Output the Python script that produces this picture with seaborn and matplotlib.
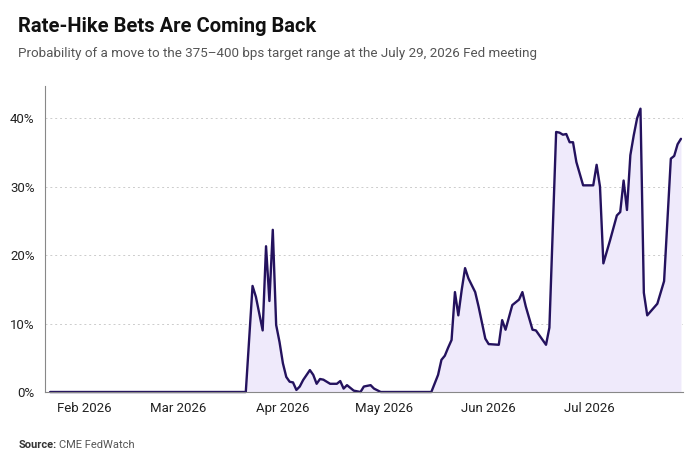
import matplotlib
matplotlib.use("Agg")
import matplotlib.pyplot as plt
import matplotlib.dates as mdates
from matplotlib import ticker as mtick
import pandas as pd
import seaborn as sns

# CME FedWatch probability (%) of a move to 375-400 bps at the Jul 29, 2026 meeting
dates = [
    "2026-01-22", "2026-03-21", "2026-03-23", "2026-03-24", "2026-03-26", "2026-03-27",
    "2026-03-28", "2026-03-29", "2026-03-30", "2026-03-31", "2026-04-01", "2026-04-02",
    "2026-04-03", "2026-04-04", "2026-04-05", "2026-04-06", "2026-04-07", "2026-04-09",
    "2026-04-10", "2026-04-11", "2026-04-12", "2026-04-13", "2026-04-15", "2026-04-17",
    "2026-04-18", "2026-04-19", "2026-04-20", "2026-04-22", "2026-04-24", "2026-04-25",
    "2026-04-27", "2026-04-28", "2026-04-30", "2026-05-15", "2026-05-17", "2026-05-18",
    "2026-05-19", "2026-05-20", "2026-05-21", "2026-05-22", "2026-05-23", "2026-05-24",
    "2026-05-25", "2026-05-26", "2026-05-28", "2026-05-29", "2026-05-31", "2026-06-01",
    "2026-06-04", "2026-06-05", "2026-06-06", "2026-06-08", "2026-06-10", "2026-06-11",
    "2026-06-12", "2026-06-14", "2026-06-15", "2026-06-16", "2026-06-18", "2026-06-19",
    "2026-06-21", "2026-06-22", "2026-06-23", "2026-06-24", "2026-06-25", "2026-06-26",
    "2026-06-27", "2026-06-29", "2026-07-02", "2026-07-03", "2026-07-04", "2026-07-05",
    "2026-07-07", "2026-07-09", "2026-07-10", "2026-07-11", "2026-07-12", "2026-07-13",
    "2026-07-14", "2026-07-15", "2026-07-16", "2026-07-17", "2026-07-18", "2026-07-21",
    "2026-07-23", "2026-07-25", "2026-07-26", "2026-07-27", "2026-07-28",
]
probs = [
    0.0, 0.0, 15.5, 13.9, 9.0, 21.3,
    13.3, 23.7, 9.8, 7.3, 4.2, 2.2,
    1.5, 1.4, 0.3, 0.8, 1.75, 3.2,
    2.5, 1.2, 1.9, 1.8, 1.2, 1.2,
    1.6, 0.5, 1.0, 0.2, 0.0, 0.8,
    1.0, 0.5, 0.0, 0.0, 2.5, 4.7,
    5.3, 6.5, 7.6, 14.6, 11.2, 14.9,
    18.1, 16.6, 14.6, 12.5, 7.8, 7.0,
    6.9, 10.5, 9.1, 12.7, 13.5, 14.6,
    12.5, 9.1, 9.0, 8.3, 6.9, 9.4,
    38.0, 37.9, 37.6, 37.7, 36.5, 36.5,
    33.6, 30.2, 30.2, 33.2, 30.0, 18.8,
    22.2, 25.8, 26.3, 30.9, 26.6, 34.6,
    37.5, 40.0, 41.4, 14.5, 11.2, 12.9,
    16.2, 34.1, 34.5, 36.2, 37.0,
]

df = pd.DataFrame({"date": pd.to_datetime(dates), "prob": probs})

LINE = "#24125e"
FILL = "#efeafb"
FONT = ["Roboto", "DejaVu Sans"]

sns.set_style("white")
plt.rcParams["font.family"] = FONT

fig = plt.figure(figsize=(7, 4.67), dpi=100)
ax = fig.add_axes([0.0636, 0.1606, 0.912, 0.655])

ax.fill_between(df["date"], df["prob"], 0, color=FILL, linewidth=0)
sns.lineplot(data=df, x="date", y="prob", ax=ax, color=LINE, linewidth=1.7, clip_on=False)

ax.set_xlim(pd.Timestamp("2026-01-20 08:00"), pd.Timestamp("2026-07-28 14:00"))
ax.set_ylim(0, 44.7)
ax.set_yticks([0, 10, 20, 30, 40])
ax.yaxis.set_major_formatter(mtick.PercentFormatter(100, decimals=0))
ax.xaxis.set_major_locator(mdates.MonthLocator(bymonth=[2, 3, 4, 5, 6, 7]))
ax.xaxis.set_major_formatter(mdates.DateFormatter("%b %Y"))
ax.set_xlabel("")
ax.set_ylabel("")

ax.grid(visible=True, which="major", axis="y", color="#cccccc", linestyle=(0, (2, 3)), linewidth=0.7)
for s in ["top", "right"]:
    ax.spines[s].set_visible(False)
for s in ["left", "bottom"]:
    ax.spines[s].set_color("#888888")
    ax.spines[s].set_linewidth(0.8)
ax.tick_params(axis="both", length=4, width=0.8, color="#888888", labelsize=9.5, labelcolor="#222222", pad=3)

fig.text(0.026, 0.931, "Rate-Hike Bets Are Coming Back", fontsize=14.5, fontweight="bold",
         color="#111111", va="baseline")
fig.text(0.026, 0.878, "Probability of a move to the 375\u2013400 bps target range at the July 29, 2026 Fed meeting",
         fontsize=9.6, color="#555555", va="baseline")
src = fig.text(0.026, 0.04, "Source:", fontsize=8, fontweight="bold", color="#333333", va="baseline")
fig.canvas.draw()
bb = src.get_window_extent().transformed(fig.transFigure.inverted())
fig.text(bb.x1 + 0.004, 0.04, "CME FedWatch", fontsize=8, color="#555555", va="baseline")

fig.savefig("out.png", dpi=100, facecolor="white")
